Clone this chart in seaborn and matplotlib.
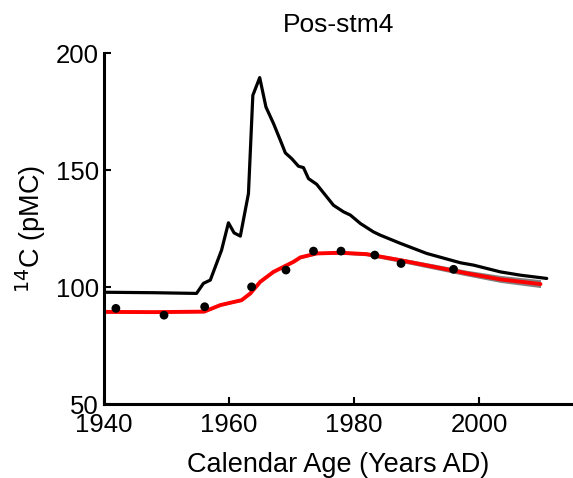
import matplotlib
matplotlib.use("Agg")
import matplotlib.pyplot as plt
import seaborn as sns
import pandas as pd
import numpy as np

sns.set_style("ticks")
plt.rcParams['font.family'] = ['Liberation Sans', 'DejaVu Sans']
plt.rcParams['text.color'] = 'black'
plt.rcParams['axes.labelcolor'] = 'black'

title = "Pos-stm4"
xlabel = "Calendar Age (Years AD)"
ylabel = "$^{14}$C (pMC)"
xticks = [1940, 1960, 1980, 2000]
yticks = [50, 100, 150, 200]

# atmospheric curve (black)
atm_year = [1940, 1948, 1954.8, 1955.9, 1957.0, 1958.8, 1959.9, 1960.8, 1961.8, 1963.1, 1963.8,
            1964.9, 1965.9, 1967.1, 1968.2, 1969.0, 1970.0, 1971.1, 1971.9, 1972.7, 1974.0,
            1976.7, 1978.3, 1979.4, 1981.0, 1983.1, 1984.2, 1987.4, 1991.6, 1997.0, 1999.1,
            2003.4, 2006.6, 2010.8]
atm_val = [97.8, 97.6, 97.3, 101.6, 103.0, 115.8, 127.5, 123.2, 121.8, 140.0, 182.0,
           189.6, 177.0, 170.0, 162.8, 157.4, 155.0, 151.7, 151.1, 146.4, 144.0,
           135.0, 132.2, 130.8, 127.2, 123.6, 122.2, 118.7, 114.4, 110.4, 109.4,
           106.5, 105.1, 103.7]

# model fit (red) with uncertainty band (grey)
fit_year = [1940, 1948, 1956.0, 1958.6, 1960.2, 1962.0, 1963.4, 1965.0, 1967.1, 1970.3, 1971.4,
            1974.0, 1977.8, 1982.0, 1987.4, 1992.7, 1998.0, 2003.4, 2009.8]
fit_val = [89.4, 89.3, 89.5, 92.3, 93.3, 94.4, 97.3, 102.3, 106.5, 110.8, 112.7,
           114.4, 114.7, 114.1, 111.5, 108.7, 105.9, 103.3, 101.3]
fit_low = [89.0, 88.9, 89.1, 91.9, 92.9, 94.0, 96.9, 101.9, 106.1, 110.4, 112.2,
           113.9, 114.1, 113.4, 110.6, 107.7, 104.8, 102.0, 99.8]
fit_high = [89.8, 89.7, 89.9, 92.7, 93.7, 94.8, 97.8, 102.9, 107.2, 111.5, 113.3,
            115.0, 115.4, 114.9, 112.5, 109.9, 107.2, 105.0, 103.2]

# measured samples (dots)
obs_year = [1941.9, 1949.6, 1956.1, 1963.6, 1969.1, 1973.5, 1977.9, 1983.3, 1987.5, 1995.9]
obs_val = [90.9, 88.0, 91.6, 100.1, 107.3, 115.4, 115.4, 113.7, 110.1, 107.6]

fig = plt.figure(figsize=(5.73, 4.78), dpi=100)
ax = fig.add_axes([0.1815, 0.1548, 0.8185, 0.7337])

atm = pd.DataFrame({"year": atm_year, "val": atm_val})
fit = pd.DataFrame({"year": fit_year, "val": fit_val, "lo": fit_low, "hi": fit_high})
obs = pd.DataFrame({"year": obs_year, "val": obs_val})

sns.lineplot(data=atm, x="year", y="val", color="black", lw=2.3, ax=ax, sort=False)
ax.fill_between(fit["year"], fit["lo"], fit["hi"], color="#808080", lw=0)
sns.lineplot(data=fit, x="year", y="val", color="#ff0000", lw=2.8, ax=ax, sort=False)
sns.scatterplot(data=obs, x="year", y="val", color="black", s=40, edgecolor="none", ax=ax, zorder=5)

ax.set_xlim(1940, 2015)
ax.set_ylim(50, 200)
ax.set_xticks(xticks)
ax.set_yticks(yticks)
ax.tick_params(direction="in", length=5, width=1.5, labelsize=18.5, colors="black")
ax.tick_params(axis="x", pad=6.5)
ax.tick_params(axis="y", pad=3.5)
for s in ["top", "right"]:
    ax.spines[s].set_visible(False)
for s in ["left", "bottom"]:
    ax.spines[s].set_linewidth(2.2)
    ax.spines[s].set_color("black")
ax.set_title(title, fontsize=19, pad=15)
ax.set_xlabel(xlabel, fontsize=19.5, labelpad=11)
ax.set_ylabel(ylabel, fontsize=19.5, labelpad=5.5)

fig.savefig("out.png", dpi=100)
